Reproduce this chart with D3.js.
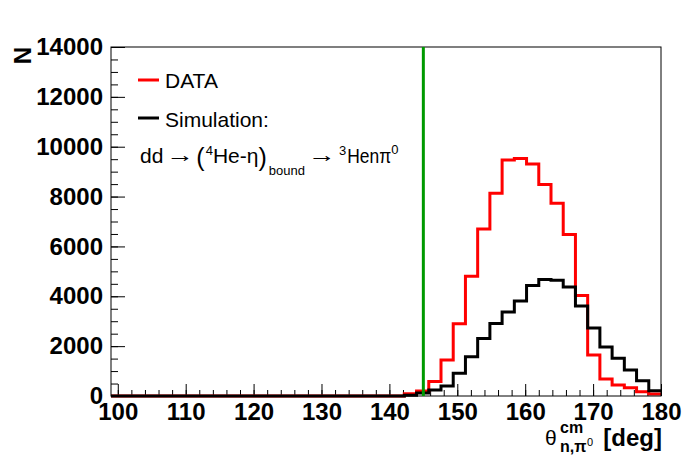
<!DOCTYPE html>
<html lang="en">
<head>
<meta charset="utf-8">
<title>theta cm histogram</title>
<script src="https://cdn.jsdelivr.net/npm/d3@7"></script>
<style>
  body { margin: 0; background: #fff; }
  svg text { font-family: "Liberation Sans", Arial, sans-serif; }
</style>
</head>
<body>
<script>
// histogram binning: 45 bins of 1.8 deg starting at 99 deg
var binStart = 99;
var binWidth = 1.8;

// counts per bin
var dataCounts = [
  0, 0, 0, 0, 0, 0, 0, 0, 0, 0,
  0, 0, 0, 0, 0, 0, 0, 0, 0, 0,
  0, 0, 0, 0, 90, 200, 580, 1440, 2900, 4800,
  6700, 8130, 9470, 9530, 9310, 8480, 7730, 6480, 4030, 1640,
  680, 440, 330, 170, 80
];
var simCounts = [
  0, 0, 0, 0, 0, 0, 0, 0, 0, 0,
  0, 0, 0, 0, 0, 0, 0, 0, 0, 0,
  0, 0, 0, 0, 30, 120, 240, 400, 910, 1570,
  2310, 2910, 3370, 3810, 4430, 4670, 4640, 4370, 3610, 2730,
  1970, 1510, 1040, 610, 210
];

var xMajorTicks = [100, 110, 120, 130, 140, 150, 160, 170, 180];
var yMajorTicks = [0, 2000, 4000, 6000, 8000, 10000, 12000, 14000];
var cutValue = 145;

// canvas / frame  (note: "top" is taken by window.top)
var W = 696, H = 472;
var fL = 111, fR = 661, fT = 47, fB = 396;

var svg = d3.select("body").append("svg")
  .attr("width", W)
  .attr("height", H);

var x = d3.scaleLinear().domain([99, 180]).range([fL, fR]);
var y = d3.scaleLinear().domain([0, 14000]).range([fB, fT]);

// minor ticks
var xMinor = d3.range(100, 180.1, 2);
var yMinor = d3.range(0, 14001, 500);

function boldLabels(g) {
  g.select(".domain").remove();
  g.selectAll("text")
    .attr("font-family", "Liberation Sans, Arial, sans-serif")
    .attr("font-weight", "bold")
    .attr("font-size", 24)
    .attr("fill", "#000");
}

svg.append("g")
  .attr("transform", "translate(0," + fB + ")")
  .call(d3.axisBottom(x).tickValues(xMinor).tickSize(-6).tickFormat(""))
  .call(function(g) { g.select(".domain").remove(); });

svg.append("g")
  .attr("transform", "translate(0," + fB + ")")
  .call(d3.axisBottom(x).tickValues(xMajorTicks).tickSize(-12).tickPadding(7).tickFormat(d3.format("d")))
  .call(boldLabels);

svg.append("g")
  .attr("transform", "translate(" + fL + ",0)")
  .call(d3.axisLeft(y).tickValues(yMinor).tickSize(-7).tickFormat(""))
  .call(function(g) { g.select(".domain").remove(); });

svg.append("g")
  .attr("transform", "translate(" + fL + ",0)")
  .call(d3.axisLeft(y).tickValues(yMajorTicks).tickSize(-14).tickPadding(8).tickFormat(d3.format("d")))
  .call(boldLabels);

// histograms
svg.append("clipPath").attr("id", "frameclip")
  .append("rect")
  .attr("x", fL).attr("y", fT - 2)
  .attr("width", fR - fL).attr("height", fB - fT + 4);

function stepPath(counts) {
  var pts = [];
  counts.forEach(function(c, i) {
    var x0 = binStart + i * binWidth;
    pts.push([x(x0), y(c)]);
    pts.push([x(x0 + binWidth), y(c)]);
  });
  return d3.line()(pts);
}

svg.append("path")
  .attr("d", stepPath(dataCounts))
  .attr("clip-path", "url(#frameclip)")
  .attr("fill", "none")
  .attr("stroke", "#ff0000")
  .attr("stroke-width", 3);

svg.append("path")
  .attr("d", stepPath(simCounts))
  .attr("clip-path", "url(#frameclip)")
  .attr("fill", "none")
  .attr("stroke", "#000")
  .attr("stroke-width", 3);

// frame
svg.append("rect")
  .attr("x", fL).attr("y", fT)
  .attr("width", fR - fL).attr("height", fB - fT)
  .attr("fill", "none")
  .attr("stroke", "#000")
  .attr("stroke-width", 1);

// cut line
svg.append("line")
  .attr("x1", x(cutValue)).attr("x2", x(cutValue))
  .attr("y1", y(14000)).attr("y2", y(0))
  .attr("stroke", "#009a00")
  .attr("stroke-width", 3);

// axis titles
svg.append("text")
  .attr("transform", "translate(31," + fT + ") rotate(-90)")
  .attr("text-anchor", "end")
  .attr("font-weight", "bold")
  .attr("font-size", 24)
  .text("N");

var xt = svg.append("g");
xt.append("text").attr("x", 545).attr("y", 445)
  .attr("font-family", "DejaVu Sans, sans-serif")
  .attr("font-size", 21).text("\u03b8");
xt.append("text").attr("x", 560).attr("y", 433)
  .attr("font-weight", "bold").attr("font-size", 16).text("cm");
xt.append("text").attr("x", 560).attr("y", 452)
  .attr("font-weight", "bold").attr("font-size", 16).text("n,\u03c0");
xt.append("text").attr("x", 587).attr("y", 446)
  .attr("font-size", 11).text("0");
xt.append("text").attr("x", 662).attr("y", 446)
  .attr("text-anchor", "end")
  .attr("font-weight", "bold").attr("font-size", 24).text("[deg]");

// legend
var leg = svg.append("g");
leg.append("line").attr("x1", 138).attr("x2", 159).attr("y1", 80).attr("y2", 80)
  .attr("stroke", "#ff0000").attr("stroke-width", 3);
leg.append("text").attr("x", 165).attr("y", 88).attr("font-size", 21).text("DATA");
leg.append("line").attr("x1", 138).attr("x2", 159).attr("y1", 118).attr("y2", 118)
  .attr("stroke", "#000").attr("stroke-width", 3);
leg.append("text").attr("x", 165).attr("y", 127).attr("font-size", 21).text("Simulation:");

// reaction line, laid out piece by piece
var pieces = [
  { t: "dd", s: 21, dy: 0, gap: 3 },
  { t: "\u2192", s: 21, dy: -1, gap: 2, w: 28, font: "DejaVu Sans" },
  { t: "(", s: 25, dy: 3, gap: 1 },
  { t: "4", s: 13, dy: -8, gap: 0 },
  { t: "He-\u03b7", s: 21, dy: 0, gap: 0 },
  { t: ")", s: 25, dy: 3, gap: 2 },
  { t: "bound", s: 13, dy: 12, gap: 3 },
  { t: "\u2192", s: 21, dy: -1, gap: 3, w: 28, font: "DejaVu Sans" },
  { t: "3", s: 13, dy: -8, gap: 1 },
  { t: "Hen\u03c0", s: 21, dy: 0, gap: 0, w: 44 },
  { t: "0", s: 13, dy: -9, gap: 0 }
];
var cx = 140, base = 163;
pieces.forEach(function(p) {
  var t = leg.append("text")
    .attr("x", cx).attr("y", base + p.dy)
    .attr("font-size", p.s)
    .text(p.t);
  if (p.font) t.attr("font-family", p.font);
  if (p.w) t.attr("textLength", p.w).attr("lengthAdjust", "spacingAndGlyphs");
  var len = p.w || t.node().getComputedTextLength();
  cx += len + p.gap;
});
</script>
</body>
</html>
